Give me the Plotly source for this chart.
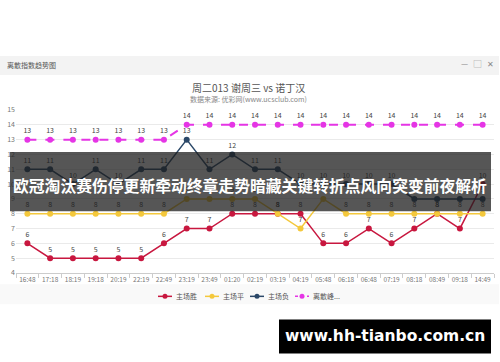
import plotly.graph_objects as go

categories = ["16:48", "17:18", "18:19", "19:18", "20:19", "22:19", "22:49", "23:19", "23:49",
              "01:20", "02:19", "03:19", "04:19", "05:48", "06:18", "06:48", "07:19", "08:18",
              "08:49", "09:18", "14:49"]
home_win = [6, 5, 5, 5, 5, 5, 6, 7, 7, 8, 8, 8, 8, 6, 6, 7, 6, 7, 8, 7, 10]
home_draw = [8, 8, 8, 8, 8, 8, 8, 9, 9, 9, 9, 8, 7, 9, 8, 8, 8, 8, 8, 8, 8]
home_loss = [11, 11, 10, 11, 10, 11, 11, 13, 11, 12, 11, 11, 10, 10, 10, 10, 10, 9, 9, 9, 9]
dispersion = [13, 13, 13, 13, 13, 13, 13, 14, 14, 14, 14, 14, 14, 14, 14, 14, 14, 14, 14, 14, 14]
series_names = ["主场胜", "主场平", "主场负", "离散峰..."]
y_ticks = [4, 5, 6, 7, 8, 9, 10, 11, 12, 13, 14, 15]

colors = ["#c8173f", "#f4c83c", "#2b4868", "#e535e5"]
W, H = 500, 362
FONT = "Noto Sans CJK SC"


def px_x(x):
    return (x - 16) / 478.0


def px_y(y):
    return (272.7 - y) / 162.7


fig = go.Figure()
series = [home_win, home_draw, home_loss, dispersion]
for i, (name, vals) in enumerate(zip(series_names, series)):
    fig.add_trace(go.Scatter(
        x=categories, y=vals, name=name,
        mode="lines+markers+text",
        text=[str(v) for v in vals], textposition="top center",
        textfont=dict(size=7, color="#444", family=FONT),
        line=dict(color=colors[i], width=2 if i == 3 else 1.5, dash="dash" if i == 3 else "solid"),
        marker=dict(color=colors[i], size=6),
        cliponaxis=False, showlegend=False,
    ))

shapes = []
annotations = []
# header bar
shapes.append(dict(type="rect", xref="paper", yref="paper", x0=px_x(0), x1=px_x(499),
                   y0=px_y(75), y1=px_y(56), fillcolor="#f3f3f3", line=dict(width=0), layer="below"))
# legend area background
shapes.append(dict(type="rect", xref="paper", yref="paper", x0=px_x(0), x1=px_x(499),
                   y0=px_y(304), y1=px_y(284), fillcolor="#f9f9f9", line=dict(width=0), layer="below"))

annotations.append(dict(text="离散指数趋势图", xref="paper", yref="paper", x=px_x(5), y=px_y(65.5),
                        xanchor="left", yanchor="middle", showarrow=False,
                        font=dict(size=7, color="#555", family=FONT)))
annotations.append(dict(text="—   ▢   ✕", xref="paper", yref="paper", x=px_x(496), y=px_y(64),
                        xanchor="right", yanchor="middle", showarrow=False,
                        font=dict(size=8, color="#888", family=FONT)))
annotations.append(dict(text="周二013 谢周三 vs 诺丁汉", xref="paper", yref="paper", x=px_x(248), y=px_y(88),
                        xanchor="center", yanchor="middle", showarrow=False,
                        font=dict(size=10, color="#555", family=FONT)))
annotations.append(dict(text="数据来源: 优彩网(www.ucsclub.com)", xref="paper", yref="paper", x=px_x(248),
                        y=px_y(99.5), xanchor="center", yanchor="middle", showarrow=False,
                        font=dict(size=7, color="#888", family=FONT)))

# legend (manual)
leg_x = [165, 212, 257, 302]
for i, name in enumerate(series_names):
    cx = leg_x[i]
    shapes.append(dict(type="line", xref="paper", yref="paper", x0=px_x(cx - 7), x1=px_x(cx + 7),
                       y0=px_y(296), y1=px_y(296), line=dict(color=colors[i], width=1.5,
                                                              dash="dot" if i == 3 else "solid")))
    shapes.append(dict(type="circle", xref="paper", yref="paper", x0=px_x(cx - 2.5), x1=px_x(cx + 2.5),
                       y0=px_y(298.5), y1=px_y(293.5), fillcolor=colors[i], line=dict(width=0)))
    annotations.append(dict(text=name, xref="paper", yref="paper", x=px_x(cx + 9), y=px_y(296),
                            xanchor="left", yanchor="middle", showarrow=False,
                            font=dict(size=7, color="#555", family=FONT)))

# dark overlay banner
shapes.append(dict(type="rect", xref="paper", yref="paper", x0=px_x(10), x1=px_x(491),
                   y0=px_y(211), y1=px_y(152), fillcolor="rgba(30,30,30,0.75)", line=dict(width=0),
                   layer="above"))
annotations.append(dict(text="<b>欧冠淘汰赛伤停更新牵动终章走势暗藏关键转折点风向突变前夜解析</b>",
                        xref="paper", yref="paper", x=px_x(250), y=px_y(185),
                        xanchor="center", yanchor="middle", showarrow=False,
                        font=dict(size=15.8, color="#ffffff", family=FONT)))
# watermark box
shapes.append(dict(type="rect", xref="paper", yref="paper", x0=px_x(279), x1=px_x(491),
                   y0=px_y(353), y1=px_y(319), fillcolor="#000000", line=dict(width=0), layer="above"))
annotations.append(dict(text="<b>www.hh-tianbo.com.cn</b>", xref="paper", yref="paper", x=px_x(385),
                        y=px_y(336), xanchor="center", yanchor="middle", showarrow=False,
                        font=dict(size=15.5, color="#ffffff", family="DejaVu Sans")))

fig.update_layout(
    width=W, height=H,
    margin=dict(l=16, r=6, t=110, b=89.3),
    paper_bgcolor="#ffffff", plot_bgcolor="#ffffff",
    shapes=shapes, annotations=annotations,
    font=dict(family=FONT),
    xaxis=dict(type="category", categoryorder="array", categoryarray=categories,
               tickson="boundaries", ticks="outside", ticklen=4, tickcolor="#ccc",
               showline=True, linecolor="#ccc", linewidth=1, showgrid=False, tickangle=0,
               tickfont=dict(size=6.5, color="#777"), range=[-0.5, 20.5]),
    yaxis=dict(range=[4, 15], tickvals=y_ticks, showgrid=True, gridcolor="#eaeaea",
               zeroline=False, showline=False, ticks="", tickfont=dict(size=7, color="#777")),
    showlegend=False,
)

fig.write_html("out.html")
